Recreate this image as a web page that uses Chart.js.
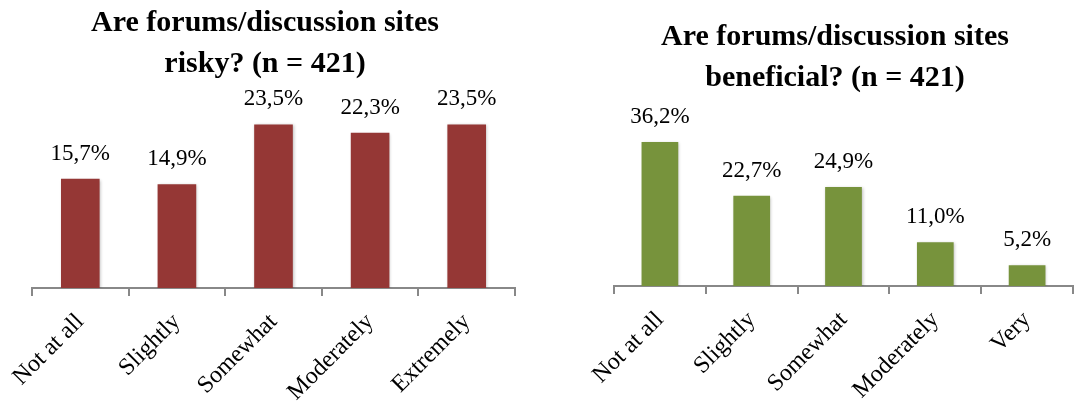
<!DOCTYPE html>
<html>
<head>
<meta charset="utf-8">
<script src="https://cdn.jsdelivr.net/npm/chart.js@4.4.0/dist/chart.umd.min.js"></script>
<style>
  html, body { margin: 0; padding: 0; background: #fff; overflow: hidden; width: 1075px; height: 408px; }
  #izq { position: absolute; left: 0; top: 0; width: 530px; height: 408px; }
  #der { position: absolute; left: 540px; top: 0; width: 590px; height: 408px; }
</style>
</head>
<body>
<div id="izq"><canvas id="chartRiesgo"></canvas></div>
<div id="der"><canvas id="chartBeneficio"></canvas></div>
<script>
// ---------------- DATOS ----------------
const catRiesgo = ["Not at all", "Slightly", "Somewhat", "Moderately", "Extremely"];
const valRiesgo = [15.7, 14.9, 23.5, 22.3, 23.5];
const tituloRiesgo = ["Are forums/discussion sites", "risky? (n = 421)"];

const catBeneficio = ["Not at all", "Slightly", "Somewhat", "Moderately", "Very"];
const valBeneficio = [36.2, 22.7, 24.9, 11.0, 5.2];
const tituloBeneficio = ["Are forums/discussion sites", "beneficial? (n = 421)"];

const SERIF = "'Liberation Serif', 'DejaVu Serif', serif";

// etiquetas encima de cada barra (y sombra suave de las barras)
const etiquetas = {
  id: "etiquetas",
  beforeDatasetsDraw(chart) {
    const ctx = chart.ctx;
    ctx.save();
    ctx.shadowColor = "rgba(0,0,0,0.25)";
    ctx.shadowBlur = 3;
    ctx.shadowOffsetX = 1;
    ctx.shadowOffsetY = 1;
  },
  afterDatasetsDraw(chart) {
    const ctx = chart.ctx;
    ctx.restore();
    ctx.save();
    ctx.font = "23px " + SERIF;
    ctx.fillStyle = "#000";
    ctx.textAlign = "center";
    ctx.textBaseline = "alphabetic";
    chart.getDatasetMeta(0).data.forEach((bar, i) => {
      const v = chart.data.datasets[0].data[i];
      ctx.fillText(v.toFixed(1).replace(".", ",") + "%", bar.x, bar.y - 19);
    });
    ctx.restore();
  }
};

function grafico(id, cats, vals, titulo, color, maxY, pad, tituloPad, altoEje) {
  return new Chart(document.getElementById(id), {
    type: "bar",
    data: {
      labels: cats,
      datasets: [{ data: vals, backgroundColor: color, categoryPercentage: 1, barPercentage: 0.4 }]
    },
    options: {
      responsive: true,
      maintainAspectRatio: false,
      animation: false,
      layout: { padding: pad },
      plugins: {
        legend: { display: false },
        tooltip: { enabled: false },
        title: {
          display: true,
          text: titulo,
          color: "#000",
          font: { family: SERIF, size: 30, weight: "bold", lineHeight: 1.35 },
          padding: tituloPad
        }
      },
      scales: {
        x: {
          afterFit: s => { s.height = altoEje; },
          border: { display: true, color: "#888", width: 2 },
          grid: { offset: true, drawOnChartArea: false, drawTicks: true, tickLength: 8, color: "#888", lineWidth: 2 },
          ticks: {
            autoSkip: false, minRotation: 45, maxRotation: 45, padding: 12,
            color: "#000", font: { family: SERIF, size: 24 }
          }
        },
        // eje invisible, solo para centrar el título
        y: {
          display: true, min: 0, max: maxY,
          afterFit: s => { s.width = 17; },
          grid: { display: false },
          border: { display: false },
          ticks: { display: false }
        }
      }
    },
    plugins: [etiquetas]
  });
}

grafico("chartRiesgo", catRiesgo, valRiesgo, tituloRiesgo, "#953735", 25,
  { left: 15, right: 15, top: 0, bottom: 0 }, { top: 3, bottom: 30 }, 120);

grafico("chartBeneficio", catBeneficio, valBeneficio, tituloBeneficio, "#77933C", 40,
  { left: 57, right: 57, top: 0, bottom: 0 }, { top: 17, bottom: 29 }, 122);
</script>
</body>
</html>
